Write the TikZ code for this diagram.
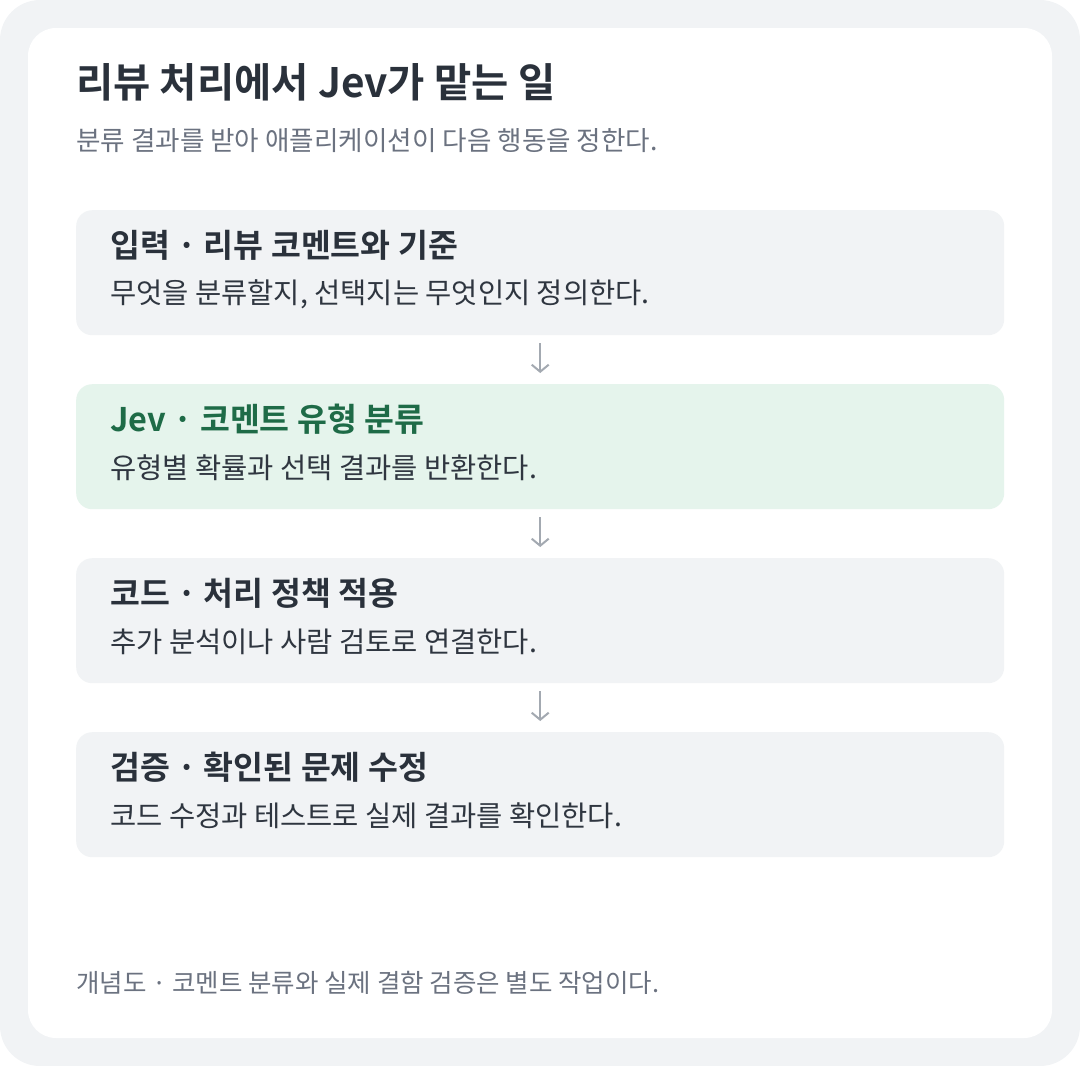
\documentclass[tikz,border=0pt]{standalone}
\usepackage{fontspec}
\setmainfont{Noto Sans CJK KR}[BoldFont={Noto Sans CJK KR Bold}]
\usetikzlibrary{arrows.meta,positioning}
\definecolor{outerbg}{HTML}{F1F3F5}
\definecolor{boxgrey}{HTML}{F1F3F5}
\definecolor{boxgreen}{HTML}{E5F4EC}
\definecolor{greentext}{HTML}{1E6B47}
\definecolor{titletext}{HTML}{2A313B}
\definecolor{bodytext}{HTML}{2F3640}
\definecolor{subtext}{HTML}{6B7280}
\definecolor{arrowgrey}{HTML}{A3A9B1}
\tikzset{
  x=1pt,y=-1pt,
  stepbox/.style={rectangle,rounded corners=16pt,minimum width=928pt,minimum height=125pt,anchor=north west,inner sep=0pt,draw=none},
  greybox/.style={stepbox,fill=boxgrey},
  greenbox/.style={stepbox,fill=boxgreen},
  headtext/.style={anchor=west,inner sep=0pt,font=\bfseries\fontsize{32.5}{38}\selectfont,text=titletext},
  bodytxt/.style={anchor=west,inner sep=0pt,font=\fontsize{28.5}{34}\selectfont,text=bodytext},
  flowarrow/.style={draw=arrowgrey,line width=2pt,-{Straight Barb[length=7pt,width=17pt,line width=2pt]}},
}
\begin{document}
\begin{tikzpicture}
\fill[outerbg,rounded corners=40pt] (0,0) rectangle (1080,1066);
\useasboundingbox (0,0) rectangle (1080,1066);
\fill[white,rounded corners=28pt] (28,28) rectangle (1052,1038);
\node[anchor=west,inner sep=0pt,font=\bfseries\fontsize{40.5}{46}\selectfont,text=titletext] (title) at (76,82.5) {리뷰 처리에서 Jev가 맡는 일};
\node[anchor=west,inner sep=0pt,font=\fontsize{26.6}{31}\selectfont,text=subtext] (subtitle) at (76,141) {분류 결과를 받아 애플리케이션이 다음 행동을 정한다.};

\node[greybox] (b1) at (76,210) {};
\node[greenbox] (b2) at (76,384) {};
\node[greybox] (b3) at (76,558) {};
\node[greybox] (b4) at (76,732) {};

\node[headtext] (h1) at (110,245) {입력 · 리뷰 코멘트와 기준};
\node[bodytxt] (t1) at (110,294) {무엇을 분류할지, 선택지는 무엇인지 정의한다.};
\node[headtext,text=greentext] (h2) at (110,419) {Jev · 코멘트 유형 분류};
\node[bodytxt] (t2) at (110,468) {유형별 확률과 선택 결과를 반환한다.};
\node[headtext] (h3) at (110,593) {코드 · 처리 정책 적용};
\node[bodytxt] (t3) at (110,642) {추가 분석이나 사람 검토로 연결한다.};
\node[headtext] (h4) at (110,767) {검증 · 확인된 문제 수정};
\node[bodytxt] (t4) at (110,816) {코드 수정과 테스트로 실제 결과를 확인한다.};

\draw[flowarrow,shorten <=8pt,shorten >=11pt] (b1.south) -- (b2.north);
\draw[flowarrow,shorten <=8pt,shorten >=11pt] (b2.south) -- (b3.north);
\draw[flowarrow,shorten <=8pt,shorten >=11pt] (b3.south) -- (b4.north);

\node[anchor=west,inner sep=0pt,font=\fontsize{25.5}{30}\selectfont,text=subtext] (footer) at (76,983) {개념도 · 코멘트 분류와 실제 결함 검증은 별도 작업이다.};
\end{tikzpicture}
\end{document}
